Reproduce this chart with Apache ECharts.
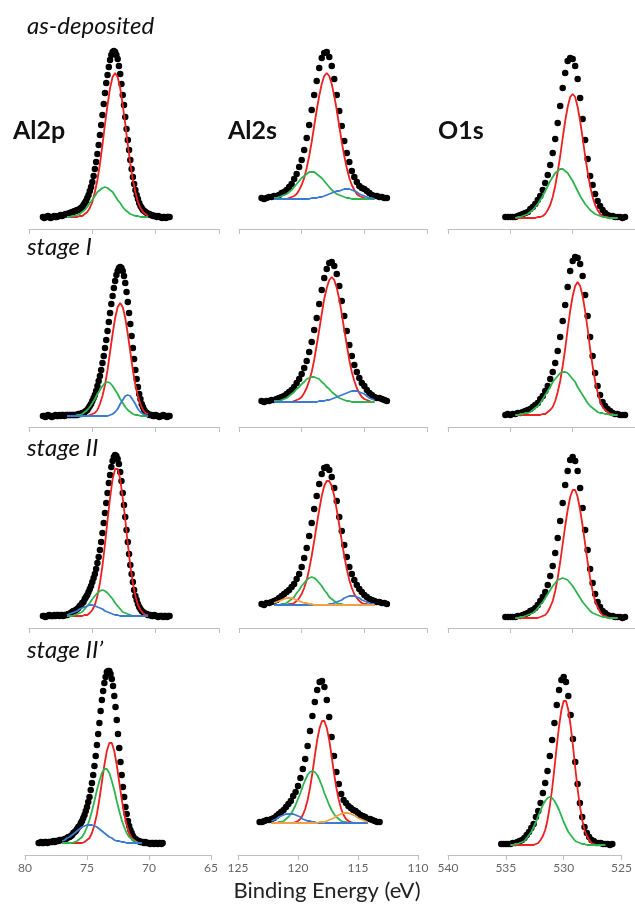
<!DOCTYPE html>
<html>
<head>
<meta charset="utf-8">
<script src="https://cdn.jsdelivr.net/npm/echarts@6/dist/echarts.min.js"></script>
<style>
  html, body { margin: 0; padding: 0; background: #fff; }
  #main { width: 635px; height: 910px; }
</style>
</head>
<body>
<div id="main"></div>
<script>
var myChart = echarts.init(document.getElementById('main'));

// energy grids (eV) for the measured points and for the fit components
var al2pDotE = [78.9,78.8,78.7,78.6,78.5,78.4,78.3,78.2,78.1,78.0,77.9,77.8,77.7,77.6,77.5,77.4,77.3,77.2,77.1,77.0,
  76.9,76.8,76.7,76.6,76.5,76.4,76.3,76.2,76.1,76.0,75.9,75.8,75.7,75.6,75.5,75.4,75.3,75.2,75.1,75.0,
  74.9,74.8,74.7,74.6,74.5,74.4,74.3,74.2,74.1,74.0,73.9,73.8,73.7,73.6,73.5,73.4,73.3,73.2,73.1,73.0,
  72.9,72.8,72.7,72.6,72.5,72.4,72.3,72.2,72.1,72.0,71.9,71.8,71.7,71.6,71.5,71.4,71.3,71.2,71.1,71.0,
  70.9,70.8,70.7,70.6,70.5,70.4,70.3,70.2,70.1,70.0,69.9,69.8,69.7,69.6,69.5,69.4,69.3,69.2,69.1,69.0,68.9];
var al2pFitE = [77.0,76.8,76.6,76.4,76.2,76.0,75.8,75.6,75.4,75.2,75.0,74.8,74.6,74.4,74.2,74.0,73.8,73.6,73.4,73.2,
  73.0,72.8,72.6,72.4,72.2,72.0,71.8,71.6,71.4,71.2,71.0,70.8,70.6];
var al2sDotE = [123.2,123.0,122.8,122.6,122.4,122.2,122.0,121.8,121.6,121.4,121.2,121.0,120.8,120.6,120.4,120.2,120.0,
  119.8,119.6,119.4,119.2,119.0,118.8,118.6,118.4,118.2,118.0,117.8,117.6,117.4,117.2,117.0,116.8,116.6,116.4,116.2,116.0,
  115.8,115.6,115.4,115.2,115.0,114.8,114.6,114.4,114.2,114.0,113.8,113.6,113.4,113.2];
var al2sFitE = [122.2,122.0,121.8,121.6,121.4,121.2,121.0,120.8,120.6,120.4,120.2,120.0,119.8,119.6,119.4,119.2,119.0,
  118.8,118.6,118.4,118.2,118.0,117.8,117.6,117.4,117.2,117.0,116.8,116.6,116.4,116.2,116.0,115.8,115.6,115.4,115.2,115.0,
  114.8,114.6,114.4,114.2];
var o1sDotE = [535.4,535.2,535.0,534.8,534.6,534.4,534.2,534.0,533.8,533.6,533.4,533.2,533.0,532.8,532.6,532.4,532.2,532.0,
  531.8,531.6,531.4,531.2,531.0,530.8,530.6,530.4,530.2,530.0,529.8,529.6,529.4,529.2,529.0,528.8,528.6,528.4,528.2,528.0,
  527.8,527.6,527.4,527.2,527.0,526.8,526.6,526.4,526.2,526.0,525.8];
var o1sFitE = [534.6,534.4,534.2,534.0,533.8,533.6,533.4,533.2,533.0,532.8,532.6,532.4,532.2,532.0,531.8,531.6,531.4,531.2,
  531.0,530.8,530.6,530.4,530.2,530.0,529.8,529.6,529.4,529.2,529.0,528.8,528.6,528.4,528.2,528.0,527.8,527.6,527.4,527.2,
  527.0,526.8,526.6,526.4];

// as-deposited
var asdepAl2pDots = [12,11,12,12,13,12,11,12,12,13,12,12,13,13,14,13,14,14,15,15,15,16,16,17,17,18,18,19,19,20,
  21,22,24,26,28,31,34,38,42,47,53,60,67,75,84,94,104,114,125,136,146,154,162,169,174,177,178,177,174,170,
  163,155,145,134,124,112,100,89,79,69,60,52,45,39,34,30,26,23,21,19,18,17,16,15,15,14,14,13,13,13,
  12,13,12,12,11,12,12,11,12,12,12];
var asdepAl2pRed = [12,12,12,12,12,13,13,15,17,21,27,37,49,65,84,105,124,141,152,156,152,141,124,105,84,65,49,37,27,21,17,15,13];
var asdepAl2pGreen = [12,12,13,13,14,15,17,19,22,26,29,33,37,39,41,42,41,39,37,33,29,26,22,19,17,15,14,13,13,12,12,12,12];
var asdepAl2sDots = [31,30,31,32,32,33,33,34,36,37,39,42,45,50,55,62,69,79,91,104,119,134,148,161,171,176,177,172,163,150,
  134,118,103,88,76,67,58,52,47,43,41,40,38,36,34,33,33,32,32,31,31];
var asdepAl2sRed = [30,30,30,30,30,30,31,32,33,35,39,44,51,61,73,87,103,119,133,145,153,156,153,145,133,119,103,87,73,61,
  51,44,39,35,33,32,31,30,30,30,30];
var asdepAl2sGreen = [31,31,32,33,34,35,37,39,42,45,48,51,53,55,57,57,57,55,53,51,48,45,42,39,37,35,34,33,32,31,
  31,30,30,30,30,30,30,30,30,30,30];
var asdepAl2sBlue = [30,30,30,30,30,30,30,30,30,30,30,30,30,30,30,31,31,31,32,32,33,34,35,36,37,38,38,39,40,40,
  40,39,38,37,35,34,33,32,31,31,30];
var asdepO1sDots = [12,12,12,12,12,13,14,15,16,17,20,22,25,29,33,39,46,54,64,76,90,106,123,141,156,168,171,170,163,150,
  131,110,89,70,53,44,35,28,23,19,16,14,13,13,12,12,12,11,12];
var asdepO1sRed = [11,11,11,11,11,11,11,11,11,12,12,13,15,19,24,32,43,57,73,91,108,122,132,135,132,122,108,91,73,57,
  43,32,24,19,15,13,12,12,11,11,11,11];
var asdepO1sGreen = [11,12,12,13,14,15,17,19,22,25,29,33,38,43,48,52,56,58,60,60,58,56,52,48,43,38,33,29,25,22,
  19,17,15,14,13,12,12,11,11,11,11,11];

// stage I
var st1Al2pDots = [11,11,10,11,12,11,11,10,11,11,12,11,11,12,11,12,12,11,12,12,12,12,12,12,12,12,12,12,13,13,
  13,14,14,15,16,17,19,21,23,26,29,32,36,41,46,51,57,64,71,79,87,96,105,114,123,131,139,146,152,156,
  159,160,159,156,151,144,135,125,114,103,91,79,68,57,48,40,33,28,23,20,17,15,14,13,12,12,12,11,11,12,
  11,11,10,11,11,12,11,11,10,11,11];
var st1Al2pRed = [11,11,11,11,11,11,11,11,11,12,13,14,17,23,31,42,57,75,93,109,120,124,120,109,93,75,57,42,31,23,17,14,13];
var st1Al2pGreen = [11,11,11,11,12,12,13,15,17,20,24,28,33,37,41,44,45,44,41,37,33,28,24,20,17,15,13,12,12,11,11,11,11];
var st1Al2pBlue = [11,11,11,11,11,11,11,11,11,11,11,11,11,11,11,11,11,12,13,15,18,23,27,31,32,31,27,23,18,15,13,12,11];
var st1Al2sDots = [26,25,26,26,27,27,28,29,30,31,33,35,37,40,44,48,53,59,66,75,85,97,109,123,137,149,158,164,165,161,
  153,141,126,111,96,82,71,62,55,49,44,41,37,34,32,30,29,29,28,27,26];
var st1Al2sRed = [25,25,25,25,25,25,25,25,26,27,28,30,34,39,46,55,67,82,97,113,128,139,147,150,147,139,128,113,97,82,
  67,55,46,39,34,30,28,27,26,25,25];
var st1Al2sGreen = [26,26,26,27,28,29,31,33,35,38,40,43,45,48,49,50,50,49,48,45,43,40,38,35,33,31,29,28,27,26,
  26,25,25,25,25,25,25,25,25,25,25];
var st1Al2sBlue = [25,25,25,25,25,25,25,25,25,25,25,25,25,25,25,25,25,25,26,26,26,27,27,28,29,30,31,32,33,34,
  35,36,36,36,35,34,33,31,29,28,27];
var st1O1sDots = [12,13,12,13,13,14,14,15,16,17,18,20,22,24,28,31,36,41,48,55,64,76,90,106,122,140,156,166,170,169,
  163,151,132,111,90,71,54,41,32,25,21,18,16,14,13,13,12,12,12];
var st1O1sRed = [12,12,12,12,12,12,12,12,12,12,12,13,13,15,17,20,26,35,46,61,78,98,116,131,141,145,141,131,116,98,
  78,61,46,35,26,20,17,15,13,13,12,12];
var st1O1sGreen = [12,12,13,13,14,14,15,17,19,21,24,28,32,36,40,45,48,51,54,55,55,54,51,48,45,40,36,32,28,24,
  21,19,17,15,14,14,13,13,12,12,12,12];

// stage II
var st2Al2pDots = [12,12,11,12,12,13,12,12,12,13,12,13,13,12,13,13,12,13,13,13,14,14,15,16,17,17,18,19,20,22,
  23,25,26,29,31,33,36,39,42,46,50,54,59,65,71,78,86,95,105,115,125,135,145,153,161,167,171,173,172,169,
  164,156,147,135,123,111,98,86,74,63,54,46,38,32,28,24,21,19,17,16,15,14,14,13,13,13,12,12,13,12,
  12,11,12,12,12,11,12,12,11,12,12];
var st2Al2pRed = [12,12,12,12,12,12,12,13,13,15,18,23,32,45,62,84,108,130,149,159,159,149,130,108,84,62,45,32,23,18,15,13,13];
var st2Al2pGreen = [12,12,12,13,14,15,16,19,22,25,29,32,35,37,38,37,35,32,29,25,22,19,16,15,14,13,12,12,12,12,12,12,12];
var st2Al2pBlue = [13,14,15,16,17,19,20,21,22,23,23,22,21,20,19,17,16,15,14,13,13,12,12,12,12,12,12,12,12,12,12,12,12];
var st2Al2sDots = [24,23,25,25,26,27,28,30,32,34,36,38,41,44,49,54,61,70,80,92,105,119,132,144,154,160,161,158,151,140,
  127,111,97,83,71,61,54,48,43,39,36,33,31,29,28,27,26,26,25,25,24];
var st2Al2sRed = [23,23,23,23,23,23,24,24,25,27,30,34,40,48,59,72,87,103,118,132,142,147,147,142,132,118,103,87,72,59,
  48,40,34,30,27,25,24,24,23,23,23];
var st2Al2sGreen = [23,23,23,24,24,25,27,29,31,35,38,42,45,48,50,51,50,48,45,42,38,35,31,29,27,25,24,24,23,23,
  23,23,23,23,23,23,23,23,23,23,23];
var st2Al2sBlue = [23,23,23,23,23,23,23,23,23,23,23,23,23,23,23,23,23,23,23,23,23,23,24,24,25,26,27,28,30,31,
  32,32,32,31,30,28,27,26,25,24,24];
var st2Al2sOrange = [25,26,27,28,29,30,30,30,29,28,27,26,25,25,24,24,23,23,23,23,23,23,23,23,23,23,23,23,23,23,
  23,23,23,23,23,23,23,23,23,23,23];
var st2O1sDots = [11,11,11,11,11,12,12,13,14,15,17,18,20,23,27,31,36,43,52,62,75,90,107,125,143,157,168,171,167,157,
  140,120,98,78,59,45,34,26,21,17,15,13,12,12,11,11,11,10,11];
var st2O1sRed = [10,10,10,10,10,10,10,10,10,10,11,12,13,16,21,27,37,50,66,84,102,118,131,138,138,131,118,102,84,66,
  50,37,27,21,16,13,12,11,10,10,10,10];
var st2O1sGreen = [10,10,11,11,12,13,14,15,17,20,23,26,30,34,38,42,45,48,49,50,49,48,45,42,38,34,30,26,23,20,
  17,15,14,13,12,11,11,10,10,10,10,10];

// stage II'
var st2pAl2pDots = [12,12,13,12,12,13,13,12,13,13,13,13,14,13,14,14,14,15,15,15,15,16,16,17,18,18,19,20,22,23,
  24,26,28,29,32,34,37,40,44,48,53,58,65,72,80,89,99,110,121,132,144,155,164,172,178,183,184,184,181,176,
  169,159,148,135,121,107,93,80,68,58,48,41,34,29,25,22,19,17,16,15,14,14,13,13,13,12,13,12,12,12,
  11,12,12,11,12,12,11,12,12,11,12];
var st2pAl2pRed = [12,12,12,12,12,12,12,12,12,13,15,17,22,30,41,56,73,90,104,112,112,104,90,73,56,41,30,22,17,15,13,12,12];
var st2pAl2pGreen = [12,12,12,12,12,13,14,16,18,22,28,35,44,54,65,74,82,86,86,82,74,65,54,44,35,28,22,18,16,14,13,12,12];
var st2pAl2pBlue = [14,15,17,18,20,22,24,26,28,29,30,30,30,29,28,26,24,22,20,18,17,15,14,14,13,13,12,12,12,12,12,12,12];
var st2pAl2sDots = [33,33,34,35,35,36,37,39,41,43,45,48,51,54,59,63,69,77,86,96,109,124,139,153,165,173,174,168,155,138,
  118,99,83,71,61,55,52,49,47,45,44,42,40,39,38,36,36,35,34,33,33];
var st2pAl2sRed = [32,32,32,32,32,32,32,32,32,32,33,34,36,40,46,55,67,82,99,115,127,134,134,127,115,99,82,67,55,46,
  40,36,34,33,32,32,32,32,32,32,32];
var st2pAl2sGreen = [32,32,32,33,33,34,36,38,41,45,50,56,62,69,75,80,83,84,83,80,75,69,62,56,50,45,41,38,36,34,
  33,33,32,32,32,32,32,32,32,32,32];
var st2pAl2sBlue = [34,35,36,38,39,40,41,41,41,41,40,39,38,36,35,34,34,33,33,32,32,32,32,32,32,32,32,32,32,32,
  32,32,32,32,32,32,32,32,32,32,32];
var st2pAl2sOrange = [32,32,32,32,32,32,32,32,32,32,32,32,32,32,32,32,32,32,32,32,33,33,33,34,35,36,37,39,40,41,
  42,42,42,41,40,39,37,36,35,34,33];
var st2pO1sDots = [11,11,11,11,11,12,12,13,14,15,17,20,23,27,31,38,44,52,62,72,84,99,115,132,150,165,175,178,173,159,
  140,116,93,71,52,38,28,22,18,15,14,12,12,12,11,11,11,10,11];
var st2pO1sRed = [10,10,10,10,10,10,10,10,10,10,10,11,12,15,19,25,35,49,66,87,109,129,145,154,154,145,129,109,87,66,
  49,35,25,19,15,12,11,10,10,10,10,10];
var st2pO1sGreen = [10,10,11,11,12,13,14,17,20,23,28,33,39,45,50,54,57,58,57,54,50,45,39,33,28,23,20,17,14,13,
  12,11,11,10,10,10,10,10,10,10,10,10];

var rowNames = ['as-deposited', 'stage I', 'stage II', 'stage II\u2019'];
var colNames = ['Al2p', 'Al2s', 'O1s'];
var colRange = [[65, 80], [110, 125], [525, 540]];

var RED = '#ee2020', GREEN = '#2fb34f', BLUE = '#3a7bd0', ORANGE = '#f2a046';

var panels = [
  {row: 0, col: 0, dots: asdepAl2pDots, fits: [[asdepAl2pRed, RED], [asdepAl2pGreen, GREEN]]},
  {row: 0, col: 1, dots: asdepAl2sDots, fits: [[asdepAl2sRed, RED], [asdepAl2sGreen, GREEN], [asdepAl2sBlue, BLUE]]},
  {row: 0, col: 2, dots: asdepO1sDots, fits: [[asdepO1sRed, RED], [asdepO1sGreen, GREEN]]},
  {row: 1, col: 0, dots: st1Al2pDots, fits: [[st1Al2pRed, RED], [st1Al2pGreen, GREEN], [st1Al2pBlue, BLUE]]},
  {row: 1, col: 1, dots: st1Al2sDots, fits: [[st1Al2sRed, RED], [st1Al2sGreen, GREEN], [st1Al2sBlue, BLUE]]},
  {row: 1, col: 2, dots: st1O1sDots, fits: [[st1O1sRed, RED], [st1O1sGreen, GREEN]]},
  {row: 2, col: 0, dots: st2Al2pDots, fits: [[st2Al2pRed, RED], [st2Al2pGreen, GREEN], [st2Al2pBlue, BLUE]]},
  {row: 2, col: 1, dots: st2Al2sDots, fits: [[st2Al2sRed, RED], [st2Al2sGreen, GREEN], [st2Al2sBlue, BLUE], [st2Al2sOrange, ORANGE]]},
  {row: 2, col: 2, dots: st2O1sDots, fits: [[st2O1sRed, RED], [st2O1sGreen, GREEN]]},
  {row: 3, col: 0, dots: st2pAl2pDots, fits: [[st2pAl2pRed, RED], [st2pAl2pGreen, GREEN], [st2pAl2pBlue, BLUE]]},
  {row: 3, col: 1, dots: st2pAl2sDots, fits: [[st2pAl2sRed, RED], [st2pAl2sGreen, GREEN], [st2pAl2sBlue, BLUE], [st2pAl2sOrange, ORANGE]]},
  {row: 3, col: 2, dots: st2pO1sDots, fits: [[st2pO1sRed, RED], [st2pO1sGreen, GREEN]]}
];

var dotEByCol = [al2pDotE, al2sDotE, o1sDotE];
var fitEByCol = [al2pFitE, al2sFitE, o1sFitE];

// layout (px)
var rowAxisY = [229, 427, 628, 855];
var PANEL_H = 200;
function gridBox(row, col) {
  if (row < 3) return {left: [29, 239, 448][col], width: [190, 188, 188][col]};
  return {left: [25, 238, 448][col], width: [186, 180, 180][col]};
}

function pairs(es, vs) {
  return es.map(function (e, i) { return [e, vs[i]]; });
}

var grids = [], xAxes = [], yAxes = [], series = [];
panels.forEach(function (p, i) {
  var box = gridBox(p.row, p.col);
  grids.push({left: box.left, width: box.width, top: rowAxisY[p.row] - PANEL_H, height: PANEL_H});
  xAxes.push({
    gridIndex: i, type: 'value', inverse: true,
    min: colRange[p.col][0], max: colRange[p.col][1], interval: 5,
    axisLine: {onZero: false, lineStyle: {color: '#bfbfbf', width: 1}},
    axisTick: {show: true, length: 5, lineStyle: {color: '#bfbfbf'}},
    splitLine: {show: false},
    axisLabel: {show: p.row === 3, color: '#666', fontSize: 12, fontFamily: 'Lato', margin: 7}
  });
  yAxes.push({gridIndex: i, type: 'value', min: 0, max: PANEL_H, show: false});
  series.push({
    type: 'scatter', xAxisIndex: i, yAxisIndex: i,
    data: pairs(dotEByCol[p.col], p.dots),
    symbol: 'circle', symbolSize: 6.5,
    itemStyle: {color: '#000', opacity: 1}, z: 2, silent: true
  });
  p.fits.forEach(function (f) {
    series.push({
      type: 'line', xAxisIndex: i, yAxisIndex: i,
      data: pairs(fitEByCol[p.col], f[0]),
      showSymbol: false, symbol: 'none',
      lineStyle: {color: f[1], width: 1.8}, z: 3, silent: true
    });
  });
});

var labelFont = 'Lato, "Open Sans", sans-serif';
var graphics = [];
var rowLabelY = [26, 247, 448, 650];
rowNames.forEach(function (t, r) {
  graphics.push({type: 'text', x: 27, y: rowLabelY[r],
    style: {text: t, font: 'italic 24px ' + labelFont, fill: '#111', verticalAlign: 'middle'}});
});
var colLabelX = [13, 228, 438];
colNames.forEach(function (t, c) {
  graphics.push({type: 'text', x: colLabelX[c], y: 131,
    style: {text: t, font: 'bold 25px ' + labelFont, fill: '#111', verticalAlign: 'middle'}});
});
graphics.push({type: 'text', x: 327, y: 891,
  style: {text: 'Binding Energy (eV)', font: '22px ' + labelFont, fill: '#222', align: 'center', verticalAlign: 'middle'}});

var option = {
  animation: false,
  backgroundColor: '#fff',
  grid: grids,
  xAxis: xAxes,
  yAxis: yAxes,
  series: series,
  graphic: graphics
};

myChart.setOption(option);
window.onresize = myChart.resize;
</script>
</body>
</html>
